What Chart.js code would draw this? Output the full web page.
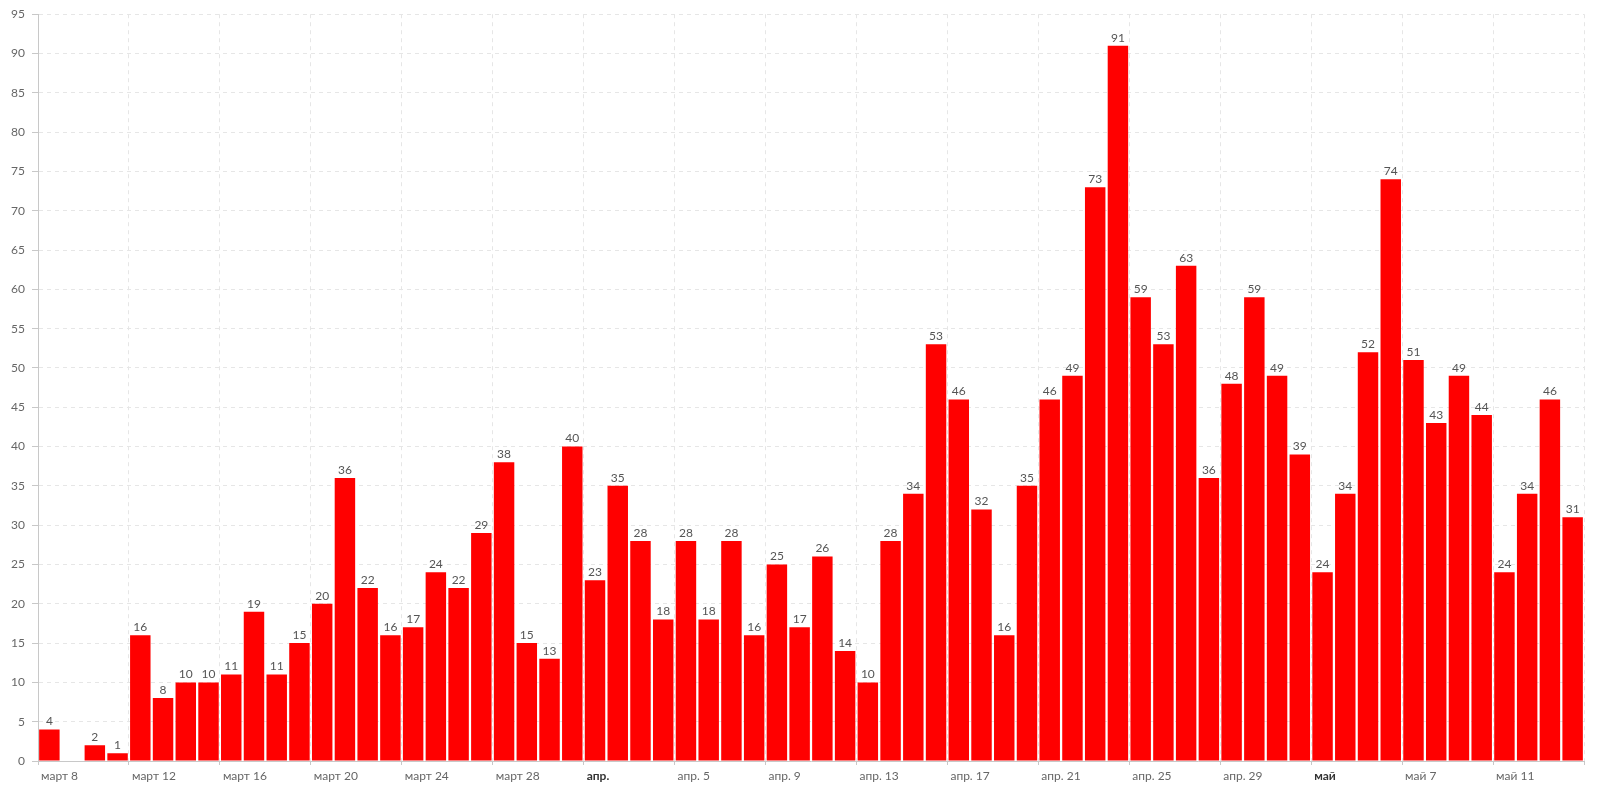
<!DOCTYPE html>
<html>
<head>
<meta charset="utf-8">
<script src="https://cdn.jsdelivr.net/npm/chart.js@4.4.1/dist/chart.umd.min.js"></script>
<style>
  html, body { margin: 0; padding: 0; background: #fff; }
  #wrap { width: 1600px; height: 792px; }
</style>
</head>
<body>
<div id="wrap"><canvas id="chart" width="1600" height="792"></canvas></div>
<script>
// daily values, март 8 .. май 14
const values = [
    4, 0, 2, 1, 16, 8, 10, 10, 11, 19, 11, 15, 20, 36, 22, 16, 17, 24, 22, 29,
    38, 15, 13, 40, 23, 35, 28, 18, 28, 18, 28, 16, 25, 17, 26, 14, 10, 28, 34, 53,
    46, 32, 16, 35, 46, 49, 73, 91, 59, 53, 63, 36, 48, 59, 49, 39, 24, 34, 52, 74,
    51, 43, 49, 44, 24, 34, 46, 31
];

// one label every 4 days
const tickLabels = [
    'март 8', 'март 12', 'март 16', 'март 20', 'март 24', 'март 28', 'апр.',
    'апр. 5', 'апр. 9', 'апр. 13', 'апр. 17', 'апр. 21', 'апр. 25', 'апр. 29',
    'май', 'май 7', 'май 11', ''
];
const monthLabels = ['апр.', 'май'];

const yTicks = { min: 0, max: 95, step: 5 };

const FONT = 'Lato, "Noto Sans", sans-serif';

const isMonth = (c) => !!(c.tick && monthLabels.includes(c.tick.label));

// draws the numbers above the bars
const valueLabels = {
    id: 'valueLabels',
    afterDatasetsDraw(chart) {
        const ctx = chart.ctx;
        const meta = chart.getDatasetMeta(0);
        ctx.save();
        ctx.font = '12px ' + FONT;
        ctx.fillStyle = '#555';
        ctx.textAlign = 'center';
        ctx.textBaseline = 'bottom';
        meta.data.forEach((bar, i) => {
            if (!values[i]) return;
            ctx.fillText(String(values[i]), bar.x, bar.y - 2);
        });
        ctx.restore();
    }
};

new Chart(document.getElementById('chart'), {
    type: 'bar',
    data: {
        datasets: [{
            data: values.map((v, i) => ({ x: i + 0.5, y: v })),
            backgroundColor: '#ff0000',
            barPercentage: 1,
            categoryPercentage: 0.9
        }]
    },
    options: {
        responsive: false,
        animation: false,
        layout: { padding: { top: 13, right: 16, left: 0, bottom: 0 } },
        plugins: {
            legend: { display: false },
            tooltip: { enabled: false }
        },
        scales: {
            x: {
                type: 'linear',
                min: 0,
                max: values.length,
                offset: false,
                grid: {
                    offset: false,
                    color: '#e6e6e6',
                    tickColor: '#c8c8c8',
                    tickLength: 4
                },
                border: { display: true, color: '#c8c8c8', width: 1, dash: [4, 4] },
                ticks: {
                    stepSize: 4,
                    autoSkip: false,
                    maxRotation: 0,
                    align: 'start',
                    labelOffset: 3,
                    padding: 4,
                    color: (c) => isMonth(c) ? '#333' : '#666',
                    font: (c) => ({
                        family: FONT,
                        size: 12,
                        weight: isMonth(c) ? 'bold' : 'normal'
                    }),
                    callback: (v) => tickLabels[Math.round(v / 4)] ?? ''
                },
                afterFit: (s) => { s.height = 31; }
            },
            y: {
                min: yTicks.min,
                max: yTicks.max,
                grid: {
                    color: '#e6e6e6',
                    tickColor: '#c8c8c8',
                    tickLength: 6
                },
                border: { display: true, color: '#c8c8c8', width: 1, dash: [4, 4] },
                ticks: {
                    stepSize: yTicks.step,
                    padding: 7,
                    color: '#666',
                    font: { family: FONT, size: 12 }
                },
                afterFit: (s) => { s.width = 38; }
            }
        }
    },
    plugins: [valueLabels]
});
</script>
</body>
</html>
